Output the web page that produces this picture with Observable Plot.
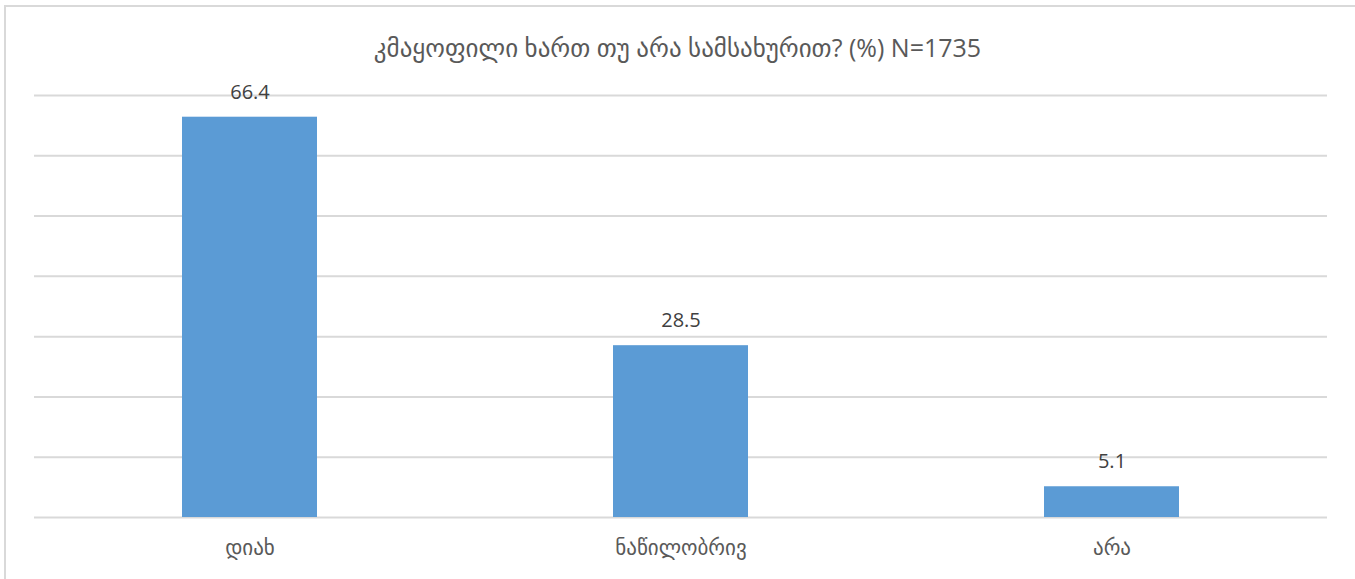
<!DOCTYPE html>
<html><head><meta charset="utf-8">
<script src="https://cdn.jsdelivr.net/npm/d3@7"></script>
<script src="https://cdn.jsdelivr.net/npm/@observablehq/plot@0.6"></script>
<style>
body{margin:0;background:#fff;overflow:hidden}
#frame{position:absolute;left:4px;top:5px;width:1400px;height:600px;border:2px solid #d9d9d9;box-sizing:border-box}
#title{position:absolute;left:0;top:31px;width:1355px;text-align:center;font-size:25px;font-family:"Open Sans","DejaVu Sans",sans-serif;color:#595959;line-height:32px}
#chart{position:absolute;left:0;top:0}
</style>
</head><body>
<div id="frame"></div>
<div id="title">კმაყოფილი ხართ თუ არა სამსახურით? (%) N=1735</div>
<div id="chart"></div>
<script>
const categories = ["დიახ", "ნაწილობრივ", "არა"];
const values = [66.4, 28.5, 5.1];
const yTicks = [0, 10, 20, 30, 40, 50, 60, 70];

const data = categories.map((c, i) => ({category: c, value: values[i]}));

const chart = Plot.plot({
  width: 1355,
  height: 579,
  marginTop: 95,
  marginBottom: 62,
  marginLeft: 34,
  marginRight: 28,
  style: {fontFamily: '"Open Sans","DejaVu Sans",sans-serif', background: "transparent"},
  x: {domain: categories, paddingInner: 0.687, paddingOuter: 0.3435, axis: null, label: null},
  y: {domain: [0, 70], axis: null},
  marks: [
    Plot.gridY(yTicks, {stroke: "#d9d9d9", strokeOpacity: 1, strokeWidth: 2}),
    Plot.barY(data, {x: "category", y: "value", fill: "#5B9BD5"}),
    Plot.text(data, {x: "category", y: "value", text: d => d.value.toFixed(1), dy: -25, fontSize: 20, fill: "#404040"}),
    Plot.axisX({tickSize: 0, tickPadding: 23, fontSize: 21, color: "#595959", label: null})
  ]
});
document.getElementById("chart").appendChild(chart);
</script>
</body></html>
